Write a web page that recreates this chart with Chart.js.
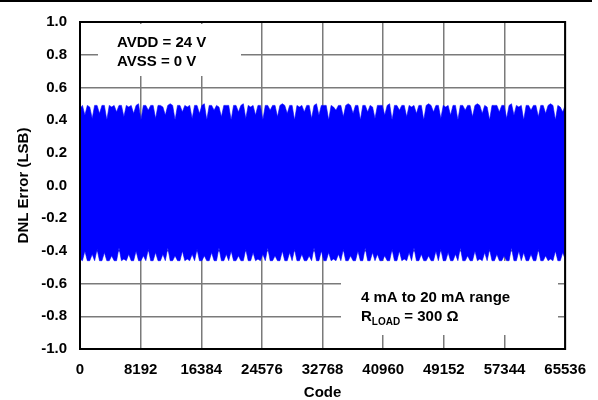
<!DOCTYPE html>
<html>
<head>
<meta charset="utf-8">
<script src="https://cdn.jsdelivr.net/npm/chart.js@4.4.1/dist/chart.umd.min.js"></script>
<style>
  html, body { margin: 0; padding: 0; background: #fff; }
  canvas { display: block; }
</style>
</head>
<body>
<canvas id="dnl" width="598" height="400"></canvas>
<script>
// x axis: code range and tick labels
const codeMin = 0;
const codeMax = 65536;
const codeTicks = [0, 8192, 16384, 24576, 32768, 40960, 49152, 57344, 65536];
const yTicks = [-1.0, -0.8, -0.6, -0.4, -0.2, 0.0, 0.2, 0.4, 0.6, 0.8, 1.0];

// upper envelope of the DNL band (LSB), read across the plot left to right
const dnlUpper = [
  0.47,0.49,0.43,0.49,0.48,0.41,0.49,0.49,0.44,0.49,
  0.49,0.40,0.49,0.48,0.49,0.45,0.49,0.49,0.42,0.49,
  0.48,0.49,0.44,0.49,0.50,0.40,0.49,0.49,0.46,0.49,
  0.49,0.41,0.49,0.49,0.48,0.43,0.49,0.50,0.49,0.40,
  0.49,0.49,0.45,0.49,0.48,0.49,0.41,0.49,0.49,0.44,
  0.49,0.50,0.40,0.49,0.49,0.46,0.49,0.48,0.42,0.49,
  0.49,0.49,0.40,0.49,0.49,0.45,0.49,0.50,0.41,0.49,
  0.48,0.49,0.43,0.49,0.49,0.40,0.49,0.49,0.46,0.49,
  0.49,0.42,0.49,0.50,0.49,0.44,0.49,0.49,0.40,0.49,
  0.48,0.49,0.45,0.49,0.49,0.41,0.49,0.50,0.43,0.49,
  0.49,0.49,0.40,0.49,0.48,0.46,0.49,0.49,0.42,0.49,
  0.50,0.49,0.44,0.49,0.49,0.40,0.49,0.49,0.45,0.49,
  0.48,0.41,0.49,0.49,0.49,0.43,0.49,0.50,0.40,0.49,
  0.49,0.46,0.49,0.49,0.42,0.49,0.48,0.49,0.44,0.49,
  0.49,0.40,0.49,0.50,0.49,0.45,0.49,0.49,0.41,0.49,
  0.48,0.49,0.43,0.49,0.49,0.40,0.49,0.49,0.46,0.49,
  0.49,0.42,0.49,0.50,0.49,0.44,0.49,0.48,0.40,0.49,
  0.49,0.49,0.45,0.49,0.49,0.41,0.49,0.50,0.43,0.49,
  0.48,0.49,0.40,0.49,0.49,0.46,0.49,0.49,0.42,0.49,
  0.49,0.44,0.49,0.50,0.49,0.40,0.49,0.48,0.45,0.49
];

// lower envelope of the DNL band (LSB)
const dnlLower = [
  -0.45,-0.46,-0.40,-0.46,-0.46,-0.42,-0.46,-0.39,-0.46,-0.46,
  -0.41,-0.46,-0.46,-0.43,-0.46,-0.46,-0.38,-0.46,-0.45,-0.46,
  -0.42,-0.46,-0.46,-0.40,-0.46,-0.46,-0.43,-0.46,-0.39,-0.46,
  -0.46,-0.41,-0.46,-0.46,-0.42,-0.46,-0.38,-0.46,-0.46,-0.43,
  -0.46,-0.46,-0.40,-0.46,-0.45,-0.46,-0.42,-0.46,-0.39,-0.46,
  -0.46,-0.43,-0.46,-0.46,-0.41,-0.46,-0.46,-0.38,-0.46,-0.46,
  -0.42,-0.46,-0.40,-0.46,-0.46,-0.43,-0.46,-0.46,-0.39,-0.46,
  -0.46,-0.41,-0.46,-0.45,-0.46,-0.42,-0.46,-0.38,-0.46,-0.46,
  -0.43,-0.46,-0.46,-0.40,-0.46,-0.46,-0.41,-0.46,-0.39,-0.46,
  -0.46,-0.42,-0.46,-0.46,-0.43,-0.46,-0.38,-0.46,-0.46,-0.40,
  -0.46,-0.46,-0.41,-0.46,-0.45,-0.46,-0.42,-0.46,-0.39,-0.46,
  -0.46,-0.43,-0.46,-0.46,-0.40,-0.46,-0.46,-0.38,-0.46,-0.46,
  -0.41,-0.46,-0.42,-0.46,-0.46,-0.43,-0.46,-0.46,-0.39,-0.46,
  -0.46,-0.40,-0.46,-0.45,-0.46,-0.41,-0.46,-0.38,-0.46,-0.46,
  -0.42,-0.46,-0.46,-0.43,-0.46,-0.46,-0.40,-0.46,-0.39,-0.46,
  -0.46,-0.41,-0.46,-0.46,-0.42,-0.46,-0.38,-0.46,-0.46,-0.43,
  -0.46,-0.46,-0.40,-0.46,-0.45,-0.46,-0.41,-0.46,-0.39,-0.46,
  -0.46,-0.42,-0.46,-0.46,-0.43,-0.46,-0.46,-0.38,-0.46,-0.46,
  -0.40,-0.46,-0.41,-0.46,-0.46,-0.42,-0.46,-0.46,-0.39,-0.46,
  -0.46,-0.43,-0.46,-0.45,-0.46,-0.40,-0.46,-0.46,-0.41,-0.45
];

const FONT = '"Liberation Sans", Arial, sans-serif';

function toPoints(vals) {
  const step = (codeMax - codeMin) / (vals.length - 1);
  return vals.map((v, i) => ({ x: codeMin + i * step, y: v }));
}

// white note boxes, the frame and the thin rule at the very top
const notesPlugin = {
  id: 'notes',
  beforeDatasetsDraw(chart) {
    const ctx = chart.ctx;
    ctx.save();
    ctx.fillStyle = '#fff';
    ctx.fillRect(98, 24, 143, 52);
    ctx.fillRect(341, 261, 217, 74);
    ctx.fillStyle = '#000';
    ctx.font = 'bold 15px ' + FONT;
    ctx.textBaseline = 'middle';
    ctx.textAlign = 'left';
    ctx.fillText('AVDD = 24 V', 117, 43);
    ctx.fillText('AVSS = 0 V', 117, 62);
    ctx.fillText('4 mA to 20 mA range', 361, 298);
    ctx.fillText('R', 361, 317);
    let x = 361 + ctx.measureText('R').width;
    ctx.font = 'bold 10px ' + FONT;
    ctx.fillText('LOAD', x, 322);
    x += ctx.measureText('LOAD').width;
    ctx.font = 'bold 15px ' + FONT;
    ctx.fillText(' = 300 \u03A9', x, 317);
    ctx.restore();
  },
  afterDatasetsDraw(chart) {
    const ctx = chart.ctx;
    const a = chart.chartArea;
    ctx.save();
    ctx.strokeStyle = '#000';
    ctx.lineWidth = 2;
    ctx.strokeRect(a.left, a.top, a.right - a.left, a.bottom - a.top);
    ctx.fillStyle = '#000';
    ctx.fillRect(0, 0, 592, 2);
    ctx.restore();
  }
};

new Chart(document.getElementById('dnl').getContext('2d'), {
  type: 'line',
  data: {
    datasets: [{
      label: 'DNL max',
      data: toPoints(dnlUpper),
      borderColor: 'rgb(0, 0, 255)',
      backgroundColor: 'rgb(0, 0, 255)',
      borderWidth: 0.6,
      pointRadius: 0,
      fill: '+1',
      tension: 0
    }, {
      label: 'DNL min',
      data: toPoints(dnlLower),
      borderColor: 'rgb(0, 0, 255)',
      backgroundColor: 'rgb(0, 0, 255)',
      borderWidth: 0.6,
      pointRadius: 0,
      fill: false,
      tension: 0
    }]
  },
  options: {
    responsive: false,
    animation: false,
    devicePixelRatio: 1,
    layout: { padding: { top: 17, right: 31, left: 0, bottom: 0 } },
    plugins: {
      legend: { display: false },
      tooltip: { enabled: false }
    },
    scales: {
      x: {
        type: 'linear',
        min: codeMin,
        max: codeMax,
        afterBuildTicks: (scale) => { scale.ticks = codeTicks.map(v => ({ value: v })); },
        afterFit: (scale) => { scale.height = 51; },
        grid: { color: '#7a7a7a', lineWidth: 1.5, drawTicks: false },
        border: { display: false },
        ticks: {
          color: '#000',
          padding: 12,
          maxRotation: 0,
          autoSkip: false,
          font: { family: FONT, size: 15, weight: 'bold' },
          callback: (v) => String(v)
        },
        title: {
          display: true,
          text: 'Code',
          color: '#000',
          padding: { top: 0, bottom: 0 },
          font: { family: FONT, size: 15, weight: 'bold', lineHeight: 1 }
        }
      },
      y: {
        min: -1,
        max: 1,
        afterBuildTicks: (scale) => { scale.ticks = yTicks.map(v => ({ value: v })); },
        afterFit: (scale) => { scale.width = 80; },
        grid: { color: '#7a7a7a', lineWidth: 1.5, drawTicks: false },
        border: { display: false },
        ticks: {
          color: '#000',
          padding: 13,
          autoSkip: false,
          font: { family: FONT, size: 15, weight: 'bold' },
          callback: (v) => Number(v).toFixed(1)
        },
        title: {
          display: true,
          text: 'DNL Error (LSB)',
          color: '#000',
          padding: { top: 15, bottom: 0 },
          font: { family: FONT, size: 15, weight: 'bold' }
        }
      }
    }
  },
  plugins: [notesPlugin]
});
</script>
</body>
</html>
